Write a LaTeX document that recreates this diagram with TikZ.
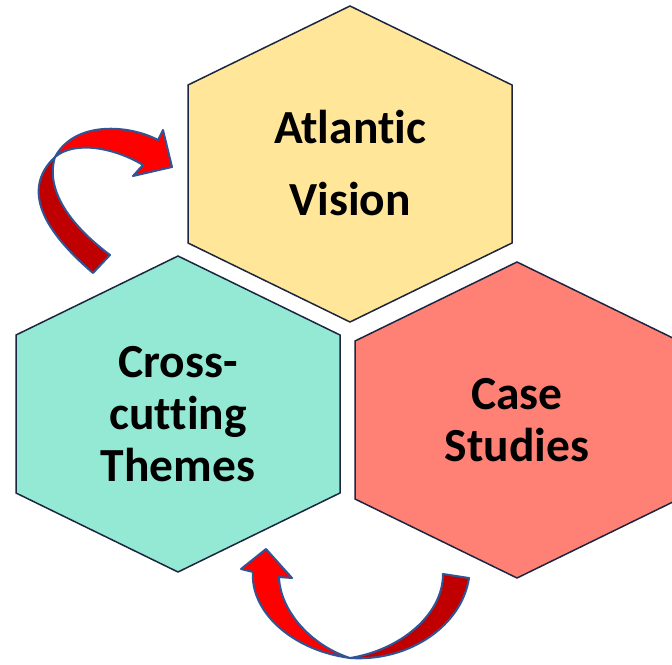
\documentclass[tikz,border=0pt]{standalone}
\usepackage{fontspec}
\setmainfont{Carlito}[Ligatures=NoCommon]
\usetikzlibrary{calc}
\definecolor{visionfill}{RGB}{255,230,153}
\definecolor{themesfill}{RGB}{147,233,211}
\definecolor{studiesfill}{RGB}{255,129,117}
\definecolor{hexrim}{RGB}{28,38,64}
\definecolor{arrowrim}{RGB}{47,85,151}
\definecolor{arrowfront}{RGB}{255,0,0}
\definecolor{arrowback}{RGB}{192,0,0}
\tikzset{hexline/.style={draw=hexrim, line width=1.5pt, line join=miter},
  celltext/.style={font=\bfseries\fontsize{47.5}{52}\selectfont, align=center, text=black},
  bentarrow/.style={draw=arrowrim, line width=2pt, line join=round}}
% hexagon around a centre, pointy top
\newcommand{\hexcell}[2]{\filldraw[hexline,fill=#2] (#1) ++(0,-158) -- ++(-162,79)
  -- ++(0,158) -- ++(162,79) -- ++(162,-79) -- ++(0,-158) -- cycle;}

\begin{document}
\begin{tikzpicture}[x=1pt,y=-1pt]
          \useasboundingbox (0,0) rectangle (672,664);
          \coordinate (visionc) at (350,164);
          \coordinate (themesc) at (178,414);
          \coordinate (studiesc) at (517,420);
          \hexcell{visionc}{visionfill}
          \hexcell{themesc}{themesfill}
          \hexcell{studiesc}{studiesfill}
          \node[celltext] (vision) at (350,163) {Atlantic\\[20pt]Vision};
          \node[celltext] (themes) at (178,414) {Cross-\\cutting\\Themes};
          \node[celltext] (studies) at (517,420) {Case\\Studies};
          % upper arrow, back part then front part
          \coordinate (bendtop) at (55,157);
          \filldraw[bentarrow,fill=arrowback] (93,273) .. controls (45,232) and (20,190)
          .. (bendtop) .. controls (45,190) and (70,225) .. (110,255) -- cycle;
          \filldraw[bentarrow,fill=arrowfront] (bendtop) .. controls (75,120) and (130,125)
          .. (158,140) -- (163,130) -- (172,167) -- (133,176) -- (143,165)
          .. controls (115,148) and (75,140) .. (bendtop) -- cycle;
          % lower arrow
          \coordinate (bendlow) at (350,658);
          \filldraw[bentarrow,fill=arrowback] (443,574) -- (469,578) .. controls (462,625)
          and (410,662) .. (bendlow) .. controls (400,650) and (443,615) .. (443,574) -- cycle;
          \filldraw[bentarrow,fill=arrowfront] (bendlow) .. controls (290,650) and (250,610)
          .. (253,572) -- (241,569) -- (266,549) -- (292,578) -- (279,577)
          .. controls (280,610) and (310,645) .. (bendlow) -- cycle;
        \end{tikzpicture}
\end{document}
